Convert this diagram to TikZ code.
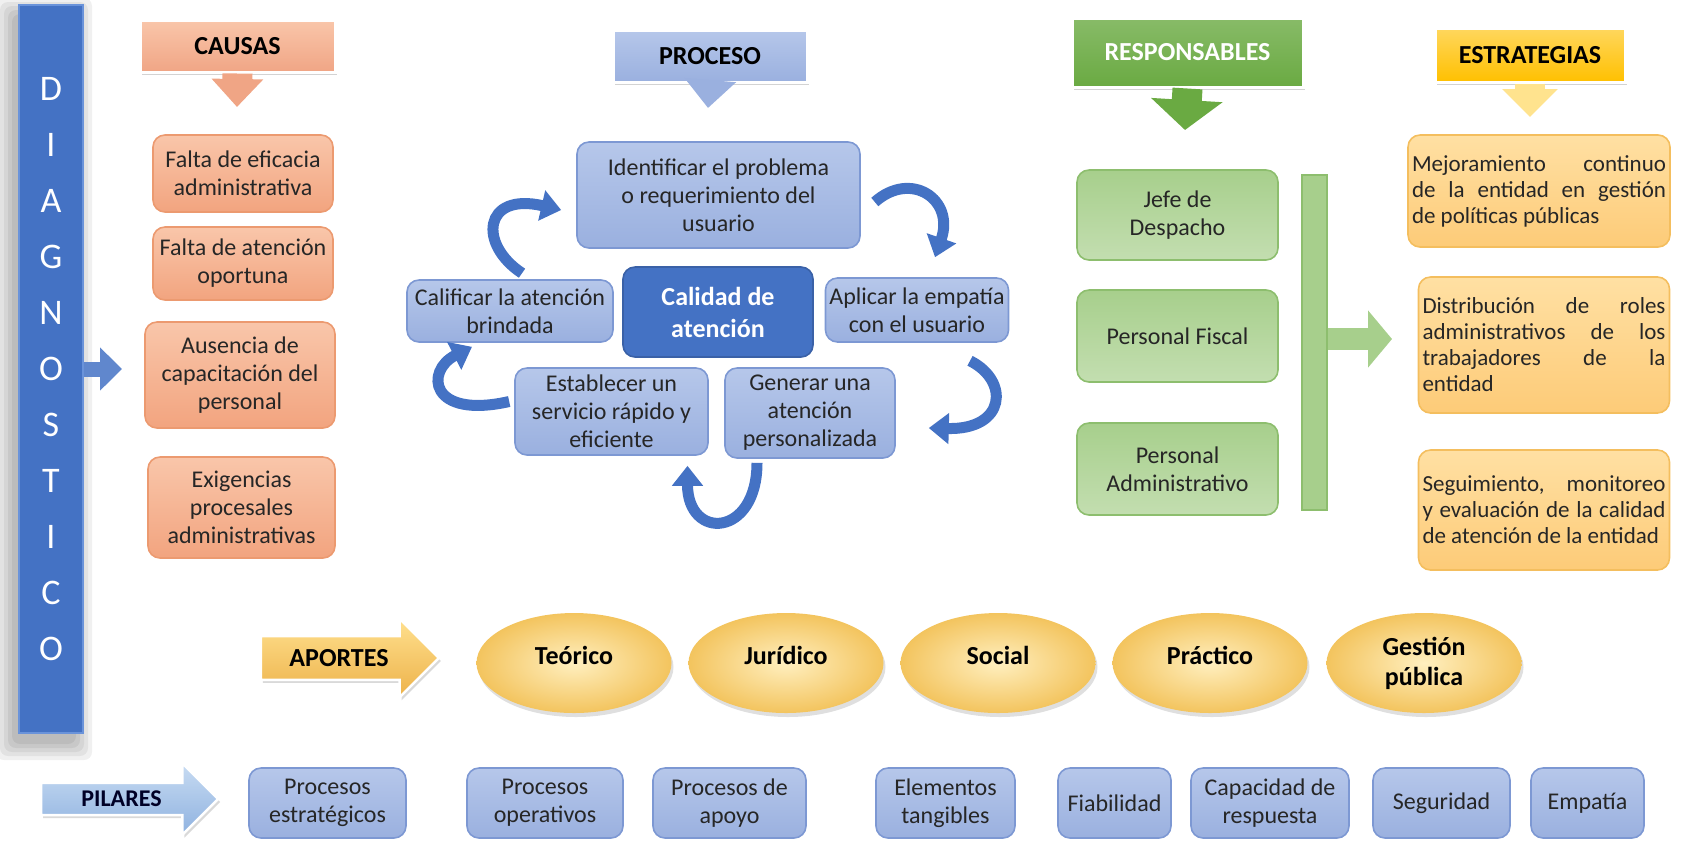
\documentclass[tikz,border=0pt]{standalone}
\usepackage{fontspec}
\setmainfont{Carlito}
\usetikzlibrary{arrows.meta,shapes.arrows,shapes.geometric,shadows,calc}

\definecolor{txtdark}{HTML}{262626}
\definecolor{diagblue}{HTML}{4472C4}
\definecolor{diagedge}{HTML}{6A93DA}
\definecolor{causatop}{HTML}{F9C6AA}
\definecolor{causafill}{HTML}{F2A47F}
\definecolor{causaedge}{HTML}{EC9A70}
\definecolor{causahead}{HTML}{F0A585}
\definecolor{proctop}{HTML}{B6C7EA}
\definecolor{procfill}{HTML}{9AB0DF}
\definecolor{procedge}{HTML}{7D98D3}
\definecolor{arrowblue}{HTML}{4472C4}
\definecolor{greenhead}{HTML}{6AAA42}
\definecolor{greentop}{HTML}{C3DEB0}
\definecolor{greenbox}{HTML}{A7CF8C}
\definecolor{greenedge}{HTML}{8DBE6E}
\definecolor{goldtop}{HTML}{FFD75E}
\definecolor{golddark}{HTML}{FFC000}
\definecolor{esttop}{HTML}{FFE0A3}
\definecolor{estfill}{HTML}{FDCB78}
\definecolor{estedge}{HTML}{F4BE5E}
\definecolor{elllight}{HTML}{FFEFBF}
\definecolor{elldark}{HTML}{F3C45E}
\definecolor{aportetop}{HTML}{FFE08E}
\definecolor{aportebot}{HTML}{EDB24A}
\definecolor{pilartop}{HTML}{C7DBF2}
\definecolor{pilarbot}{HTML}{8FB2E0}

\begin{document}
\begin{tikzpicture}[x=0.5pt, y=-0.5pt,
    every node/.style={font=\fontsize{12}{14}\selectfont, text=txtdark},
    head_node/.style={draw=white, line width=1.5pt, inner sep=0pt, text=black,
        font=\fontsize{13}{15}\selectfont\bfseries,
        drop shadow={opacity=.35, shadow xshift=1pt, shadow yshift=-1.5pt}},
    head_arrow/.style={line width=15pt, -{Triangle[width=#1, length=14pt]}},
    box_node/.style={rounded corners=6pt, line width=0.8pt, align=center, inner sep=2pt},
    causa_node/.style={box_node, draw=causaedge, top color=causatop, bottom color=causafill},
    proc_node/.style={box_node, draw=procedge, top color=proctop, bottom color=procfill},
    resp_node/.style={box_node, draw=greenedge, top color=greenbox, bottom color=greentop},
    est_node/.style={box_node, draw=estedge, top color=esttop, bottom color=estfill,
        align=justify, font=\fontsize{11.5}{13}\selectfont},
    aporte_node/.style={ellipse, minimum width=97.5pt, minimum height=50pt,
        inner color=elllight, outer color=elldark, text=black, text depth=8pt,
        font=\fontsize{13}{15}\selectfont\bfseries,
        drop shadow={opacity=.25, shadow xshift=1pt, shadow yshift=-2pt}},
    cycle_arrow/.style={draw=arrowblue, line width=5.5pt, -{Triangle[width=15pt, length=10pt]}},
    big_arrow/.style={single arrow, draw=white, line width=1.2pt, text=black,
        drop shadow={opacity=.3, shadow xshift=1pt, shadow yshift=-1.5pt}}]

    \useasboundingbox (0,0) rectangle (1685,843);

    % diagnostico (soft shadow first)
    \foreach \s in {0,4,8,12,16}
        \fill[black, opacity=.06, rounded corners=4pt] (12-\s,14-\s) rectangle (76+\s,744+\s);
    \node[fill=diagblue, draw=diagedge, line width=1pt, minimum width=32pt, minimum height=364pt,
          inner sep=0pt, align=center, text=white, font=\fontsize{18}{28}\selectfont]
          (diag) at (51,369) {D\\I\\A\\G\\N\\O\\S\\T\\I\\C\\O};
    \coordinate (diagtip) at (122,369);
    \draw[draw=diagblue!85!white, line width=7.5pt, -{Triangle[width=21pt, length=11pt]}] (diag.east |- diagtip) -- (diagtip);

    % causas
    \node[head_node, top color=causatop, bottom color=causahead, minimum width=97.5pt, minimum height=26pt] (causas) at (237.5,46) {CAUSAS};
    \coordinate (causastip) at (237,107);
    \draw[head_arrow=25pt, draw=causahead] (causas.south) -- (causastip);
    \node[causa_node, minimum width=90pt, minimum height=38.5pt] (c1) at (243,173.5) {Falta de eficacia\\administrativa};
    \node[causa_node, minimum width=90pt, minimum height=36.5pt] (c2) at (243,263.5) {Falta de atención\\oportuna};
    \node[causa_node, minimum width=95pt, minimum height=53pt] (c3) at (240,375) {Ausencia de\\capacitación del\\personal};
    \node[causa_node, minimum width=93.5pt, minimum height=50.5pt] (c4) at (241.5,507.5) {Exigencias\\procesales\\administrativas};

    % proceso
    \node[head_node, top color=proctop, bottom color=procfill, minimum width=97pt, minimum height=26pt] (proceso) at (710,56) {PROCESO};
    \coordinate (procesotip) at (708,108);
    \draw[head_arrow=25pt, draw=procfill] (proceso.south) -- (procesotip);
    \node[proc_node, minimum width=141.5pt, minimum height=53pt] (ident) at (718.5,195) {Identificar el problema\\o requerimiento del\\usuario};
    \node[proc_node, minimum width=103pt, minimum height=31pt] (calif) at (510,311) {Calificar la atención\\brindada};
    \node[box_node, fill=diagblue, draw=diagblue!85!black, minimum width=95pt, minimum height=45pt,
          text=white, font=\fontsize{13}{16}\selectfont\bfseries] (calidad) at (718,312) {Calidad de\\atención};
    \node[proc_node, minimum width=88pt, minimum height=32pt] (aplicar) at (917,310) {Aplicar la empatía\\con el usuario};
    \node[proc_node, minimum width=96.5pt, minimum height=43.5pt] (establecer) at (611.5,411.5) {Establecer un\\servicio rápido y\\eficiente};
    \node[proc_node, minimum width=85pt, minimum height=45pt] (generar) at (810,413) {Generar una\\atención\\personalizada};

    \draw[cycle_arrow] ($(calif.north)+(12,-6)$) .. controls +(-44,-29) and +(-78,-18) .. ($(ident.west)+(-15,15)$);
    \draw[cycle_arrow] ($(ident.east)+(14,7)$) .. controls +(36,-32) and +(20,-58) .. ($(aplicar.north)+(18,-20)$);
    \draw[cycle_arrow] ($(aplicar.south)+(53,18)$) .. controls +(40,20) and +(77,2) .. ($(generar.east)+(33,15)$);
    \draw[cycle_arrow] ($(generar.south)+(-53,4)$) .. controls +(0,75) and +(0,75) .. ($(establecer.south)+(76,10)$);
    \draw[cycle_arrow] ($(establecer.west)+(-5,-10)$) .. controls +(-80,18) and +(-47,24) .. ($(calif.south)+(-38,4)$);

    % responsables
    \node[head_node, top color=greenhead!80!white, bottom color=greenhead, text=white, minimum width=115.5pt, minimum height=34.5pt] (resp) at (1187.5,52.5) {RESPONSABLES};
    \coordinate (resptip) at (1185,130);
    \draw[line width=15pt, draw=greenhead, -{Triangle[width=35pt, length=15pt]}] (resp.south) -- (resptip);
    \node[resp_node, minimum width=100.5pt, minimum height=45pt] (jefe) at (1177.5,215) {Jefe de\\Despacho};
    \node[resp_node, minimum width=100.5pt, minimum height=46pt] (fiscal) at (1177.5,336) {Personal Fiscal};
    \node[resp_node, minimum width=100.5pt, minimum height=46pt] (admin) at (1177.5,469) {Personal\\Administrativo};
    \node[fill=greenbox, draw=greenedge, line width=0.6pt, minimum width=12.5pt, minimum height=167.5pt, inner sep=0pt] (gbar) at (1314.5,342.5) {};
    \coordinate (gtip) at (1392,339);
    \draw[line width=11pt, draw=greenbox, -{Triangle[width=28pt, length=12pt]}] (gbar.east |- gtip) -- (gtip);

    % estrategias
    \node[head_node, top color=goldtop, bottom color=golddark, minimum width=95pt, minimum height=27pt] (estr) at (1530,55) {ESTRATEGIAS};
    \coordinate (estrtip) at (1530,117);
    \draw[head_arrow=27pt, draw=goldtop!70!white] (estr.south) -- (estrtip);
    \node[est_node, text width=127pt, minimum height=56pt] (e1) at (1539,191) {Mejoramiento continuo\linebreak de la entidad en gestión\linebreak de políticas públicas};
    \node[est_node, text width=121.5pt, minimum height=68pt] (e2) at (1544,345) {Distribución de roles\linebreak administrativos de los\linebreak trabajadores de la\linebreak entidad};
    \node[est_node, text width=121.5pt, minimum height=60pt] (e3) at (1544,510) {Seguimiento, monitoreo\linebreak y evaluación de la calidad\linebreak de atención de la entidad};

    % aportes
    \node[big_arrow, top color=aportetop, bottom color=aportebot, minimum height=89pt, inner ysep=6pt,
          single arrow head extend=8.75pt, font=\fontsize{13}{15}\selectfont\bfseries] (aportes) at (339,658) {APORTES};
    \node[aporte_node] (teorico) at (574,663) {Teórico};
    \node[aporte_node] (juridico) at (786,663) {Jurídico};
    \node[aporte_node] (social) at (998,663) {Social};
    \node[aporte_node] (practico) at (1210,663) {Práctico};
    \node[aporte_node, align=center, text depth=] (gestion) at (1424,663) {Gestión\\pública};

    % pilares
    \node[big_arrow, top color=pilartop, bottom color=pilarbot, minimum height=88.5pt, inner ysep=3.5pt,
          single arrow head extend=9.75pt, text=black!85!blue, font=\fontsize{12}{14}\selectfont\bfseries] (pilares) at (121.5,799) {PILARES};
    \node[proc_node, minimum width=78.5pt, minimum height=35pt] (p1) at (327.5,803) {Procesos\\estratégicos};
    \node[proc_node, minimum width=78pt, minimum height=35pt] (p2) at (545,803) {Procesos\\operativos};
    \node[proc_node, minimum width=76.5pt, minimum height=35pt] (p3) at (729.5,803) {Procesos de\\apoyo};
    \node[proc_node, minimum width=69.5pt, minimum height=35pt] (p4) at (945.5,803) {Elementos\\tangibles};
    \node[proc_node, minimum width=56.5pt, minimum height=35pt] (p5) at (1114.5,803) {Fiabilidad};
    \node[proc_node, minimum width=79pt, minimum height=35pt] (p6) at (1270,803) {Capacidad de\\respuesta};
    \node[proc_node, minimum width=68.5pt, minimum height=35pt] (p7) at (1441.5,803) {Seguridad};
    \node[proc_node, minimum width=56.5pt, minimum height=35pt] (p8) at (1587.5,803) {Empatía};

\end{tikzpicture}
\end{document}
